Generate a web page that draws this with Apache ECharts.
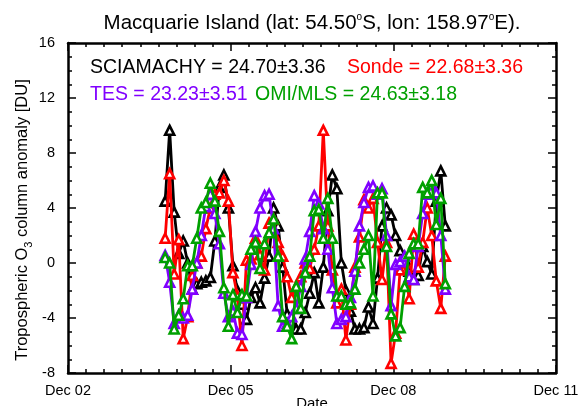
<!DOCTYPE html>
<html><head><meta charset="utf-8">
<script src="https://cdn.jsdelivr.net/npm/echarts@6/dist/echarts.min.js"></script>
<style>html,body{margin:0;padding:0;background:#fff}#c{width:579px;height:406px}</style>
</head><body><div id="c"></div>
<script>
// x positions: months since 1 Dec 2002; first sample = mid Sep 2004
const firstMonth = 21.5;
const tickLabels = ['Dec 02', 'Dec 05', 'Dec 08', 'Dec 11'];
const yTicks = [-8, -4, 0, 4, 8, 12, 16];

const sciamachy = [4.5, 9.65, 3.7, 0.7, 1.6, 0.0, -1.9, -1.5, -1.4, -1.3,
  -1.05, 1.6, 5.5, 6.4, 4.0, -0.2, -2.0, -3.0, -4.1, -2.5,
  -1.8, -2.9, -1.1, 0.5, 4.0, 2.7, -0.3, -3.7, -4.3, -4.8,
  -4.8, -3.6, -2.2, -0.7, -2.9, -0.3, 3.8, 6.4, 5.4, 0.0,
  -2.0, -3.5, -4.8, -4.8, -4.7, -3.2, -4.4, -1.1, 2.7, 4.0,
  3.5, 2.0, 0.9, 0.3, -0.6, -1.2, -0.9, 1.2, 0.1, -0.8,
  4.5, 6.7, 2.7];
const sonde = [1.8, 6.5, -0.8, 1.7, -5.5, -3.9, -0.9, 0.0, 0.5, 2.5,
  4.0, 5.0, 5.1, 6.0, 4.5, -0.7, -2.4, -6.0, 0.2, 0.3,
  1.8, 0.6, -0.5, 2.9, 3.2, 1.5, 0.5, -1.0, -2.5, -1.7,
  -1.0, 0.0, -0.4, 1.0, 2.7, 9.65, 2.7, -0.5, -2.9, -1.9,
  -5.6, -3.0, -0.3, 1.9, 4.6, 4.0, 4.7, 1.5, -1.2, 1.5,
  -7.3, -5.1, -0.5, 0.0, -2.6, 2.1, -0.3, 1.5, 4.0, 2.0,
  -1.3, -3.3, 0.5];
const tes = [0.55, -1.4, -4.4, -3.8, -4.0, -3.8, -1.9, 0.0, 2.0, 4.1,
  5.0, 3.6, 1.4, -2.2, -3.9, -3.5, -5.1, -5.2, -2.5, -0.1,
  2.3, 4.0, 4.9, 5.0, 2.5, -3.1, -4.6, -4.4, -3.9, -3.3,
  -1.7, 0.3, 2.3, 4.9, 4.3, 2.5, 1.0, -1.8, -4.4, -4.1,
  -3.9, -2.5, -0.6, 2.7, 4.4, 5.5, 5.6, 5.0, 5.4, 2.0,
  -3.1, -0.1, 0.1, 0.5, -1.0, -1.2, 1.2, 3.6, 5.0, 5.7,
  5.1, 2.0, -1.9];
const omimls = [0.4, 0.0, -4.8, -3.8, -2.6, -0.2, -0.2, 1.8, 4.0, 4.4,
  5.8, 4.5, 2.3, -1.8, -4.6, -2.3, -3.6, -2.3, -2.4, 1.0,
  1.5, -0.4, 1.4, 2.2, 3.2, 0.5, -3.9, -4.6, -5.5, -1.7,
  -3.3, -0.7, 0.5, 3.8, 3.9, 1.8, 4.7, 1.8, -2.4, -2.4,
  -3.0, -2.9, -1.9, 0.0, 1.0, 2.0, -2.4, 5.1, 5.1, 1.2,
  -3.7, -5.3, -4.7, -1.7, 0.7, 1.4, 1.4, 5.5, 5.1, 6.0,
  2.8, 4.7, -1.5];

const seriesNames = ['SCIAMACHY', 'Sonde', 'TES', 'OMI/MLS'];
const seriesMeans = ['24.70', '22.68', '23.23', '24.63'];
const seriesSds = ['3.36', '3.36', '3.51', '3.18'];
const colors = ['#000000', '#ff0000', '#8000ff', '#00a000'];
const allData = [sciamachy, sonde, tes, omimls];

const FONT = '"Liberation Sans", Arial, Helvetica, sans-serif';
const chart = echarts.init(document.getElementById('c'), null, {renderer: 'canvas'});

function pairs(arr) { return arr.map((v, i) => [firstMonth + i, v]); }

const legendPos = [[90, 68], [347, 68], [90, 95], [255, 95]];
const graphics = [];
for (let k = 0; k < 4; k++) {
  graphics.push({
    type: 'text', x: legendPos[k][0], y: legendPos[k][1], z: 100,
    style: {
      text: seriesNames[k] + ' = ' + seriesMeans[k] + '\u00b1' + seriesSds[k],
      fill: colors[k], font: '19.5px ' + FONT, textVerticalAlign: 'middle', textAlign: 'left'
    }
  });
}
graphics.push({
  type: 'text', x: 312, y: 23, z: 100,
  style: {
    text: '{n|Macquarie Island (lat: 54.50}{s|o}{n|S, lon: 158.97}{s|o}{n|E).}',
    textAlign: 'center', textVerticalAlign: 'middle',
    rich: {
      n: {fontSize: 20.5, fontFamily: FONT, fill: '#000', lineHeight: 22, verticalAlign: 'bottom'},
      s: {fontSize: 10, fontFamily: FONT, fill: '#000', lineHeight: 22, verticalAlign: 'top', padding: [0, 0, 10, 0]}
    }
  }
});
graphics.push({
  type: 'text', x: 24, y: 220, rotation: Math.PI / 2, z: 100,
  style: {
    text: '{n|Tropospheric O}{b|3}{n| column anomaly [DU]}',
    textAlign: 'center', textVerticalAlign: 'middle',
    rich: {
      n: {fontSize: 16.5, fontFamily: FONT, fill: '#000', lineHeight: 20, verticalAlign: 'top'},
      b: {fontSize: 11, fontFamily: FONT, fill: '#000', lineHeight: 20, verticalAlign: 'bottom', padding: [8, 0, 0, 0]}
    }
  }
});
graphics.push({
  type: 'text', x: 312, y: 404, z: 100,
  style: {text: 'Date', fill: '#000', font: '15px ' + FONT, textAlign: 'center', textVerticalAlign: 'middle'}
});

const axisCommonX = {
  type: 'value', min: 0, max: 108, interval: 36,
  axisLine: {show: true, onZero: false, lineStyle: {color: '#000', width: 2.5}},
  axisTick: {show: true, inside: true, length: 8, lineStyle: {color: '#000', width: 1.5}},
  minorTick: {show: true, splitNumber: 9, length: 4, lineStyle: {color: '#000', width: 1.5}},
  splitLine: {show: false}, minorSplitLine: {show: false}
};
const axisCommonY = {
  type: 'value', min: yTicks[0], max: yTicks[yTicks.length - 1], interval: 4,
  axisLine: {show: true, onZero: false, lineStyle: {color: '#000', width: 2.5}},
  axisTick: {show: true, inside: true, length: 8, lineStyle: {color: '#000', width: 1.5}},
  minorTick: {show: true, splitNumber: 4, length: 4, lineStyle: {color: '#000', width: 1.5}},
  splitLine: {show: false}, minorSplitLine: {show: false}
};

const option = {
  animation: false,
  backgroundColor: '#fff',
  grid: {left: 68, right: 23, top: 43, bottom: 33, containLabel: false, outerBoundsMode: 'none'},
  xAxis: [
    Object.assign({}, axisCommonX, {
      position: 'bottom',
      axisLabel: {show: true, fontSize: 14.5, fontFamily: FONT, color: '#000', margin: 10,
        formatter: v => tickLabels[Math.round(v / 36)]}
    }),
    Object.assign({}, axisCommonX, {position: 'top', axisLabel: {show: false}})
  ],
  yAxis: [
    Object.assign({}, axisCommonY, {
      position: 'left',
      axisLabel: {show: true, fontSize: 14.5, fontFamily: FONT, color: '#000', margin: 13}
    }),
    Object.assign({}, axisCommonY, {position: 'right', axisLabel: {show: false}})
  ],
  graphic: graphics,
  series: allData.map((arr, k) => ({
    type: 'line', name: seriesNames[k], data: pairs(arr),
    xAxisIndex: 0, yAxisIndex: 0,
    symbol: 'triangle', symbolSize: 9, showAllSymbol: true,
    lineStyle: {color: colors[k], width: 2.8},
    itemStyle: {color: '#fff', borderColor: colors[k], borderWidth: 2.6},
    z: 2 + k
  }))
};
chart.setOption(option);
</script></body></html>
